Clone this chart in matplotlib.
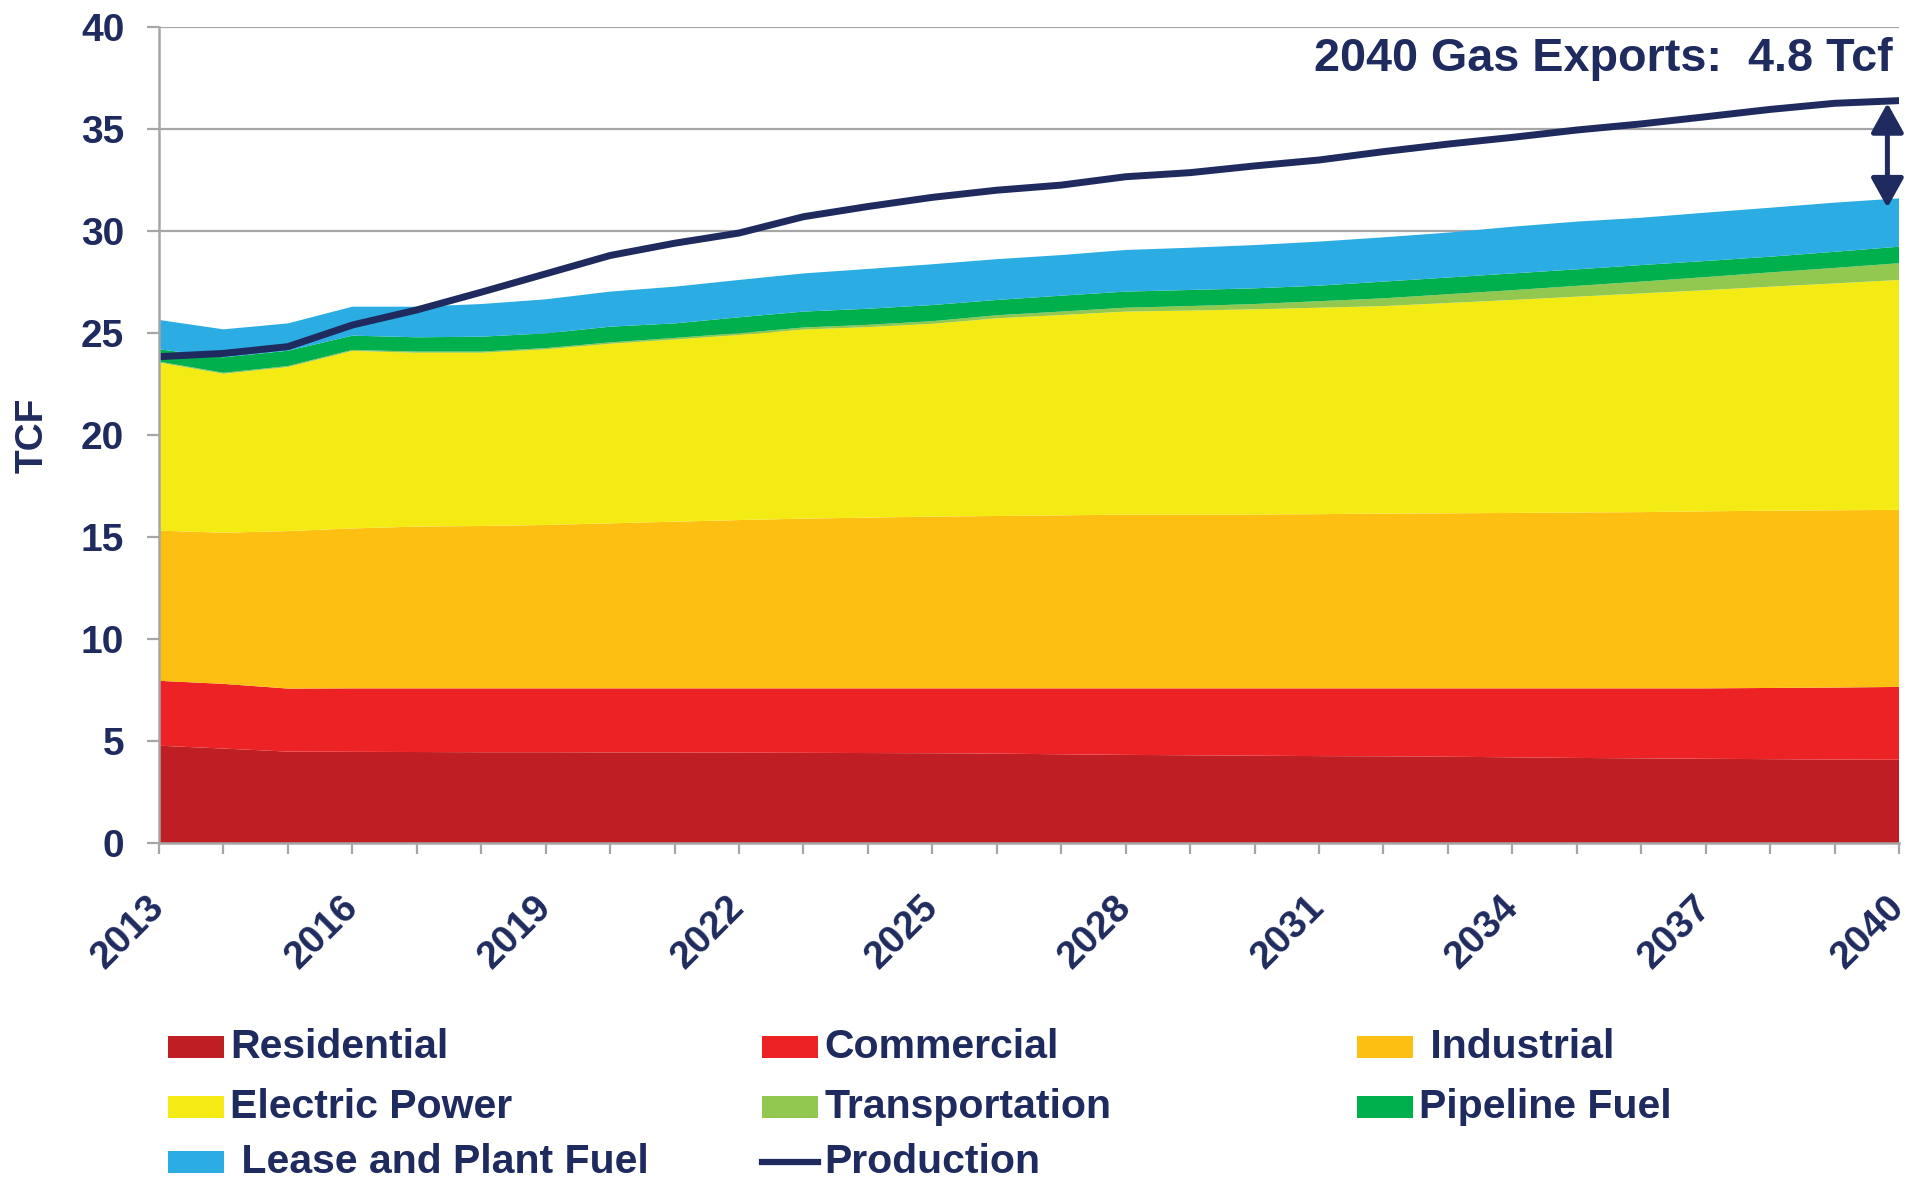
import matplotlib.pyplot as plt
from matplotlib.patches import Rectangle
from matplotlib.lines import Line2D
from matplotlib.ticker import MultipleLocator

NAVY = "#1F2A5E"
GRID = "#A6A6A6"

years = list(range(2013, 2041))

residential = [4.77, 4.63, 4.48, 4.47, 4.46, 4.45, 4.45, 4.44, 4.44, 4.43, 4.42, 4.41, 4.40, 4.38,
               4.35, 4.32, 4.30, 4.28, 4.26, 4.25, 4.23, 4.20, 4.17, 4.15, 4.13, 4.11, 4.09, 4.08]
commercial = [3.18, 3.17, 3.09, 3.11, 3.12, 3.13, 3.13, 3.14, 3.14, 3.15, 3.16, 3.17, 3.18, 3.20,
              3.23, 3.26, 3.28, 3.30, 3.32, 3.33, 3.35, 3.38, 3.41, 3.43, 3.45, 3.49, 3.53, 3.57]
industrial = [7.36, 7.41, 7.72, 7.84, 7.93, 7.96, 8.01, 8.09, 8.17, 8.25, 8.32, 8.37, 8.42, 8.45,
              8.48, 8.52, 8.52, 8.52, 8.54, 8.57, 8.58, 8.60, 8.62, 8.64, 8.68, 8.69, 8.69, 8.68]
electric = [8.24, 7.79, 8.04, 8.70, 8.52, 8.49, 8.61, 8.80, 8.93, 9.07, 9.27, 9.34, 9.45, 9.69,
            9.82, 9.95, 10.00, 10.06, 10.12, 10.17, 10.31, 10.44, 10.58, 10.72, 10.84, 10.98, 11.12, 11.27]
transportation = [0.05, 0.05, 0.05, 0.05, 0.06, 0.06, 0.06, 0.07, 0.08, 0.09, 0.10, 0.11, 0.13, 0.15,
                  0.17, 0.19, 0.22, 0.26, 0.32, 0.38, 0.43, 0.48, 0.53, 0.58, 0.64, 0.70, 0.76, 0.82]
pipeline = [0.60, 0.76, 0.75, 0.70, 0.70, 0.73, 0.72, 0.77, 0.71, 0.78, 0.78, 0.79, 0.79, 0.75,
            0.78, 0.79, 0.79, 0.77, 0.76, 0.82, 0.82, 0.82, 0.81, 0.81, 0.79, 0.77, 0.79, 0.81]
lease_plant = [1.44, 1.37, 1.34, 1.42, 1.50, 1.60, 1.67, 1.72, 1.80, 1.83, 1.87, 1.95, 2.00, 2.00,
               1.99, 2.04, 2.07, 2.12, 2.16, 2.17, 2.20, 2.29, 2.34, 2.32, 2.37, 2.40, 2.41, 2.37]
production = [23.84, 24.00, 24.33, 25.39, 26.13, 27.00, 27.90, 28.80, 29.40, 29.90, 30.70, 31.20,
              31.65, 32.00, 32.25, 32.66, 32.86, 33.19, 33.48, 33.89, 34.26, 34.59, 34.95, 35.25,
              35.60, 35.96, 36.26, 36.39]

labels = ["Residential", "Commercial", " Industrial", "Electric Power", "Transportation",
          "Pipeline Fuel", " Lease and Plant Fuel", "Production"]
colors = ["#BE1E24", "#ED2224", "#FDBF12", "#F5EB14", "#92C850", "#00B04C", "#2BACE2", NAVY]
tick_years = list(range(2013, 2041, 3))

plt.rcParams["font.family"] = ["Liberation Sans", "DejaVu Sans"]
plt.rcParams["font.weight"] = "bold"

W, H = 1919, 1183
fig = plt.figure(figsize=(W / 100, H / 100), dpi=100)
ax = fig.add_axes([159 / W, (H - 843) / H, 1740 / W, 816 / H])

ax.stackplot(years, residential, commercial, industrial, electric, transportation,
             pipeline, lease_plant, colors=colors[:7], linewidth=0, zorder=2)
ax.plot(years, production, color=NAVY, lw=5, solid_capstyle="round", zorder=4)

ax.set_xlim(2013, 2040)
ax.set_ylim(0, 40)
ax.yaxis.set_major_locator(MultipleLocator(5))
ax.set_xticks(tick_years)
ax.xaxis.set_minor_locator(MultipleLocator(1))
ax.grid(axis="y", color=GRID, lw=1.6, zorder=1)
ax.set_axisbelow(True)

for s in ("top", "right"):
    ax.spines[s].set_visible(False)
for s in ("left", "bottom"):
    ax.spines[s].set_color(GRID)
    ax.spines[s].set_linewidth(1.8)
    ax.spines[s].set_zorder(5)

ax.tick_params(axis="y", which="major", length=9, width=1.6, color=GRID, pad=16,
               labelsize=28, labelcolor=NAVY)
ax.tick_params(axis="x", which="both", length=8, width=1.6, color=GRID)
ax.tick_params(axis="x", which="major", pad=34, labelsize=28, labelcolor=NAVY)
for lab in ax.get_xticklabels():
    lab.set_rotation(45)
    lab.set_ha("right")
    lab.set_va("center")
    lab.set_rotation_mode("anchor")
    lab.set_fontweight("bold")
for lab in ax.get_yticklabels():
    lab.set_fontweight("bold")

ax.set_ylabel("TCF", fontsize=28, fontweight="bold", color=NAVY, labelpad=22)

ax.text(0.9966, 0.961, "2040 Gas Exports:  4.8 Tcf", transform=ax.transAxes,
        ha="right", va="center", fontsize=33.7, fontweight="bold", color=NAVY)

ax.annotate("", xy=(2039.82, 31.15), xytext=(2039.82, 36.27),
            arrowprops=dict(arrowstyle="<|-|>,head_length=0.9,head_width=0.5",
                            mutation_scale=20, lw=3.6, color=NAVY,
                            shrinkA=0, shrinkB=0),
            zorder=6)

# legend, laid out as a fixed 3-column grid under the plot
col_x = [168, 762, 1357]
row_y = [1047, 1107, 1162]
for i, (lab, col) in enumerate(zip(labels, colors)):
    r, c = divmod(i, 3)
    x0, yc = col_x[c], row_y[r]
    if lab == "Production":
        fig.add_artist(Line2D([(x0) / W, (x0 + 56) / W], [1 - yc / H, 1 - yc / H],
                              transform=fig.transFigure, color=col, lw=4.5))
    else:
        fig.add_artist(Rectangle((x0 / W, 1 - (yc + 11) / H), 56 / W, 22 / H,
                                 transform=fig.transFigure, color=col, lw=0))
    fig.text((x0 + 62) / W, 1 - yc / H, lab, ha="left", va="center",
             fontsize=29.5, fontweight="bold", color=NAVY)

fig.savefig("out.png", dpi=100, facecolor="white")
